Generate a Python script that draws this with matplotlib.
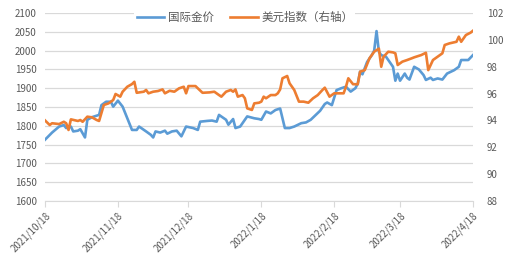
import matplotlib
matplotlib.use('Agg')
import matplotlib.pyplot as plt
import pandas as pd

plt.rcParams['font.family'] = ['Noto Sans CJK SC', 'DejaVu Sans']

# international gold price (left axis)
gold_dates = ['2021-10-18', '2021-10-21', '2021-10-24', '2021-10-26', '2021-10-27', '2021-10-29',
              '2021-10-30', '2021-11-01', '2021-11-02', '2021-11-04', '2021-11-05', '2021-11-07',
              '2021-11-10', '2021-11-11', '2021-11-13', '2021-11-15', '2021-11-16', '2021-11-18',
              '2021-11-20', '2021-11-22', '2021-11-24', '2021-11-26', '2021-11-27', '2021-11-30',
              '2021-12-02', '2021-12-03', '2021-12-04', '2021-12-06', '2021-12-08', '2021-12-09',
              '2021-12-11', '2021-12-13', '2021-12-15', '2021-12-17', '2021-12-20', '2021-12-22',
              '2021-12-23', '2021-12-26', '2021-12-28', '2021-12-30', '2021-12-31', '2022-01-03',
              '2022-01-04', '2022-01-06', '2022-01-07', '2022-01-09', '2022-01-10', '2022-01-12',
              '2022-01-15', '2022-01-17', '2022-01-18', '2022-01-20', '2022-01-22', '2022-01-24',
              '2022-01-26', '2022-01-27', '2022-01-28', '2022-01-30', '2022-02-01', '2022-02-04',
              '2022-02-06', '2022-02-08', '2022-02-10', '2022-02-12', '2022-02-14', '2022-02-15',
              '2022-02-17', '2022-02-19', '2022-02-21', '2022-02-23', '2022-02-25', '2022-02-27',
              '2022-02-28', '2022-03-01', '2022-03-02', '2022-03-04', '2022-03-06', '2022-03-07',
              '2022-03-08', '2022-03-09', '2022-03-10', '2022-03-12', '2022-03-13', '2022-03-15',
              '2022-03-16', '2022-03-17', '2022-03-18', '2022-03-20', '2022-03-21', '2022-03-22',
              '2022-03-24', '2022-03-26', '2022-03-28', '2022-03-29', '2022-03-31', '2022-04-01',
              '2022-04-03', '2022-04-05', '2022-04-07', '2022-04-10', '2022-04-12', '2022-04-13',
              '2022-04-16', '2022-04-18']
gold = [1763, 1782, 1798, 1802, 1794, 1798,
        1785, 1787, 1791, 1769, 1816, 1823,
        1829, 1855, 1864, 1864, 1851, 1867,
        1851, 1820, 1789, 1789, 1798, 1785,
        1776, 1769, 1785, 1782, 1787, 1779,
        1785, 1787, 1772, 1798, 1794, 1789,
        1811, 1813, 1814, 1811, 1829, 1816,
        1803, 1818, 1794, 1798, 1807, 1825,
        1820, 1818, 1816, 1838, 1833, 1842,
        1846, 1820, 1794, 1794, 1798, 1807,
        1809, 1816, 1828, 1840, 1858, 1862,
        1855, 1895, 1900, 1904, 1891, 1900,
        1912, 1944, 1937, 1970, 1988, 2000,
        2052, 1997, 1988, 1984, 1975, 1957,
        1920, 1939, 1920, 1939, 1928, 1923,
        1957, 1950, 1935, 1922, 1928, 1922,
        1926, 1923, 1939, 1948, 1957, 1975,
        1975, 1988]

# US dollar index (right axis)
usd_dates = ['2021-10-18', '2021-10-20', '2021-10-21', '2021-10-24', '2021-10-26', '2021-10-27',
             '2021-10-28', '2021-10-29', '2021-11-01', '2021-11-02', '2021-11-03', '2021-11-05',
             '2021-11-07', '2021-11-09', '2021-11-10', '2021-11-12', '2021-11-14', '2021-11-16',
             '2021-11-17', '2021-11-19', '2021-11-20', '2021-11-22', '2021-11-24', '2021-11-25',
             '2021-11-26', '2021-11-29', '2021-11-30', '2021-12-01', '2021-12-03', '2021-12-05',
             '2021-12-07', '2021-12-08', '2021-12-10', '2021-12-12', '2021-12-14', '2021-12-16',
             '2021-12-17', '2021-12-18', '2021-12-21', '2021-12-22', '2021-12-24', '2021-12-27',
             '2021-12-29', '2021-12-31', '2022-01-01', '2022-01-03', '2022-01-05', '2022-01-06',
             '2022-01-07', '2022-01-08', '2022-01-10', '2022-01-11', '2022-01-12', '2022-01-14',
             '2022-01-15', '2022-01-17', '2022-01-18', '2022-01-19', '2022-01-20', '2022-01-22',
             '2022-01-24', '2022-01-25', '2022-01-26', '2022-01-27', '2022-01-29', '2022-01-30',
             '2022-02-01', '2022-02-03', '2022-02-05', '2022-02-07', '2022-02-09', '2022-02-11',
             '2022-02-13', '2022-02-14', '2022-02-16', '2022-02-18', '2022-02-20', '2022-02-22',
             '2022-02-23', '2022-02-24', '2022-02-26', '2022-02-28', '2022-03-01', '2022-03-03',
             '2022-03-05', '2022-03-07', '2022-03-09', '2022-03-10', '2022-03-11', '2022-03-13',
             '2022-03-15', '2022-03-16', '2022-03-17', '2022-03-19', '2022-03-21', '2022-03-23',
             '2022-03-24', '2022-03-27', '2022-03-29', '2022-03-30', '2022-04-01', '2022-04-03',
             '2022-04-05', '2022-04-06', '2022-04-08', '2022-04-11', '2022-04-12', '2022-04-13',
             '2022-04-15', '2022-04-17', '2022-04-18']
usd = [94.00, 93.66, 93.79, 93.73, 93.90, 93.79,
       93.29, 94.08, 93.96, 94.03, 93.90, 94.28,
       94.23, 94.03, 93.96, 95.15, 95.27, 95.52,
       95.97, 95.77, 96.14, 96.51, 96.71, 96.88,
       96.06, 96.14, 96.27, 96.02, 96.14, 96.19,
       96.31, 96.02, 96.21, 96.14, 96.39, 96.51,
       96.02, 96.56, 96.56, 96.39, 96.06, 96.09,
       96.14, 95.89, 95.77, 96.14, 96.27, 96.14,
       96.31, 95.77, 95.89, 95.65, 94.90, 94.78,
       95.27, 95.32, 95.40, 95.77, 95.65, 95.89,
       95.89, 96.02, 96.31, 97.14, 97.31, 96.77,
       96.27, 95.40, 95.40, 95.32, 95.65, 95.89,
       96.27, 96.44, 95.77, 96.02, 96.02, 96.02,
       96.51, 97.14, 96.70, 96.69, 97.63, 97.75,
       98.63, 99.12, 99.35, 98.00, 98.75, 99.12,
       99.07, 99.00, 98.13, 98.38, 98.50, 98.63,
       98.70, 98.87, 99.04, 97.75, 98.50, 98.75,
       99.00, 99.62, 99.74, 99.86, 100.24, 99.86,
       100.36, 100.54, 100.68]

xticks = ['2021-10-18', '2021-11-18', '2021-12-18', '2022-01-18',
          '2022-02-18', '2022-03-18', '2022-04-18']
xticklabels = ['2021/10/18', '2021/11/18', '2021/12/18', '2022/1/18',
               '2022/2/18', '2022/3/18', '2022/4/18']

grey = '#595959'
fig = plt.figure(figsize=(5.07, 2.61), dpi=100)
ax = fig.add_axes([0.0888, 0.230, 0.844, 0.720])
ax2 = ax.twinx()

l1, = ax.plot(pd.to_datetime(gold_dates), gold, color='#5B9BD5', lw=1.9, label='国际金价')
l2, = ax2.plot(pd.to_datetime(usd_dates), usd, color='#ED7D31', lw=1.9, label='美元指数（右轴）')

ax.set_ylim(1600, 2100)
ax.set_yticks(range(1600, 2101, 50))
ax2.set_ylim(88, 102)
ax2.set_yticks(range(88, 103, 2))
ax.set_xlim(pd.Timestamp('2021-10-18'), pd.Timestamp('2022-04-18'))
ax.set_xticks(pd.to_datetime(xticks))
ax.set_xticklabels(xticklabels, rotation=45, ha='right', rotation_mode='anchor')

ax.grid(axis='y', color='#d9d9d9', lw=0.9)
ax.set_axisbelow(True)
for a in (ax, ax2):
    for s in a.spines.values():
        s.set_visible(False)
ax.spines['bottom'].set_visible(True)
ax.spines['bottom'].set_color('#d9d9d9')
ax.tick_params(axis='y', length=0, labelsize=7, labelcolor=grey, pad=6)
ax2.tick_params(axis='y', length=0, labelsize=7, labelcolor=grey, pad=10)
ax.tick_params(axis='x', length=4, color='#d9d9d9', labelsize=7, labelcolor=grey, pad=3)

leg = ax.legend(handles=[l1, l2], loc='upper center', bbox_to_anchor=(0.467, 1.055),
                ncol=2, frameon=True, fontsize=8.3, handlelength=2.4, columnspacing=1.4,
                handletextpad=0.3, borderpad=0.2)
leg.get_frame().set_edgecolor('none')
leg.get_frame().set_facecolor('white')
leg.get_frame().set_alpha(1)
for t in leg.get_texts():
    t.set_color(grey)
leg.remove()
ax2.add_artist(leg)

fig.savefig('out.png', dpi=100)
